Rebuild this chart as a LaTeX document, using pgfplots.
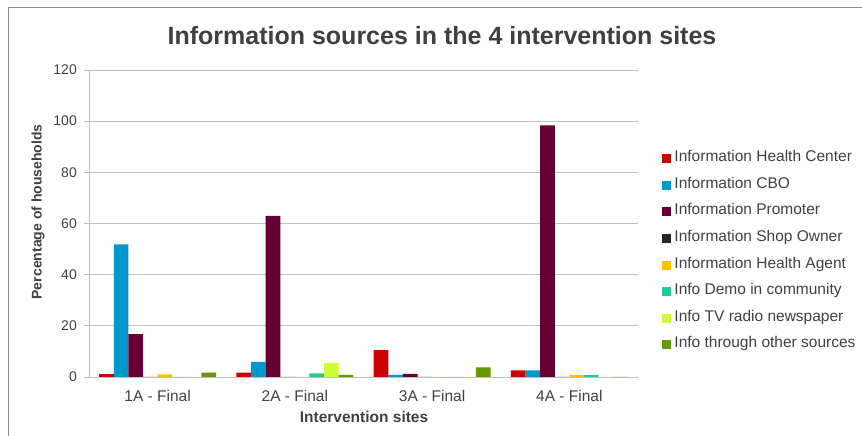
\documentclass[border=0pt]{standalone}
\usepackage{pgfplots}
\pgfplotsset{compat=1.18}
\usepackage{fontspec}
\setmainfont{Liberation Sans}

\definecolor{cHC}{HTML}{CC0000}
\definecolor{cCBO}{HTML}{0099CC}
\definecolor{cProm}{HTML}{660033}
\definecolor{cShop}{HTML}{262626}
\definecolor{cAgent}{HTML}{FFC000}
\definecolor{cDemo}{HTML}{1FCC99}
\definecolor{cTV}{HTML}{CCFF33}
\definecolor{cOther}{HTML}{669900}
\definecolor{gridgray}{HTML}{BFBFBF}
\definecolor{framegray}{HTML}{8C8C8C}
\definecolor{textgray}{HTML}{404040}

% site index: 0 = 1A, 1 = 2A, 2 = 3A, 3 = 4A
\pgfplotstableread{
site HC   CBO  Prom Shop Agent Demo TV  Other
0    1.1  51.8 16.8 0    1.0   0    0   1.7
1    1.7  5.9  63.0 0    0     1.4  5.5 0.8
2    10.5 0.8  1.2  0    0     0    0   3.8
3    2.6  2.6  98.4 0    0.7   0.7  0   0
}\sources

\begin{document}
\begin{tikzpicture}[x=1pt,y=1pt]
\useasboundingbox (0,0) rectangle (862,436);
% chart frame (top and left edges)
\draw[framegray, line width=1pt] (8,0) -- (8,428) -- (862,428);
% chart title
\node[anchor=base, font=\fontsize{25}{30}\selectfont\bfseries, text=textgray, inner sep=0pt]
  at (442,391.5) {Information sources in the 4 intervention sites};

\begin{axis}[
  at={(89pt,59pt)}, anchor=south west,
  scale only axis, width=549pt, height=307pt,
  ybar=0pt, bar width=0.1064,
  xmin=-0.5, xmax=3.5, ymin=0, ymax=120,
  ytick={0,20,...,120},
  xtick={0,1,2,3},
  xticklabels={1A - Final,2A - Final,3A - Final,4A - Final},
  major x tick style={draw=none},
  extra x ticks={-0.5,0.5,1.5,2.5,3.5},
  extra x tick labels={},
  extra x tick style={grid=none, major tick length=5pt, tick style={draw=gridgray, line width=0.8pt}},
  axis lines*=left,
  axis line style={draw=gridgray, line width=0.8pt},
  ymajorgrids, grid style={draw=gridgray, line width=0.8pt},
  tick align=outside, major tick length=5pt,
  tick style={draw=gridgray, line width=0.8pt},
  /pgf/number format/assume math mode=true,
  yticklabel style={font=\fontsize{14}{16}\selectfont, text=textgray, anchor=east, inner sep=0pt, xshift=-7pt},
  xticklabel style={font=\fontsize{15.5}{18}\selectfont, text=textgray, anchor=base, inner sep=0pt, yshift=-19.5pt},
  xlabel={Intervention sites},
  ylabel={Percentage of households},
  xlabel style={font=\fontsize{15.5}{18}\selectfont\bfseries, text=textgray, inner sep=0pt,
    at={(axis description cs:0.501,-0.1498)}, anchor=base},
  ylabel style={font=\fontsize{14}{16}\selectfont\bfseries, text=textgray, inner sep=0pt,
    at={(axis description cs:-0.093,0.538)}, anchor=center},
  legend cell align=left,
  legend style={draw=none, fill=none, inner sep=0pt, outer sep=0pt,
    at={(axis description cs:1.0437,0.7317)}, anchor=north west,
    font=\fontsize{15.5}{18}\selectfont, text=textgray,
    row sep=14.66pt,
    nodes={inner sep=0pt, text height=9pt, text depth=3pt},
    /tikz/every odd column/.append style={column sep=3.5pt}},
  legend image code/.code={\fill[#1, draw=none] (0pt,-4.5pt) rectangle (9pt,4.5pt);},
  every axis plot/.append style={draw=none},
]
\addplot[fill=cHC]    table[x=site,y=HC]    {\sources};
\addplot[fill=cCBO]   table[x=site,y=CBO]   {\sources};
\addplot[fill=cProm]  table[x=site,y=Prom]  {\sources};
\addplot[fill=cShop]  table[x=site,y=Shop]  {\sources};
\addplot[fill=cAgent] table[x=site,y=Agent] {\sources};
\addplot[fill=cDemo]  table[x=site,y=Demo]  {\sources};
\addplot[fill=cTV]    table[x=site,y=TV]    {\sources};
\addplot[fill=cOther] table[x=site,y=Other] {\sources};
\legend{Information Health Center, Information CBO, Information Promoter,
  Information Shop Owner, Information Health Agent, Info Demo in community,
  Info TV radio newspaper, Info through other sources}
\end{axis}
\end{tikzpicture}
\end{document}
